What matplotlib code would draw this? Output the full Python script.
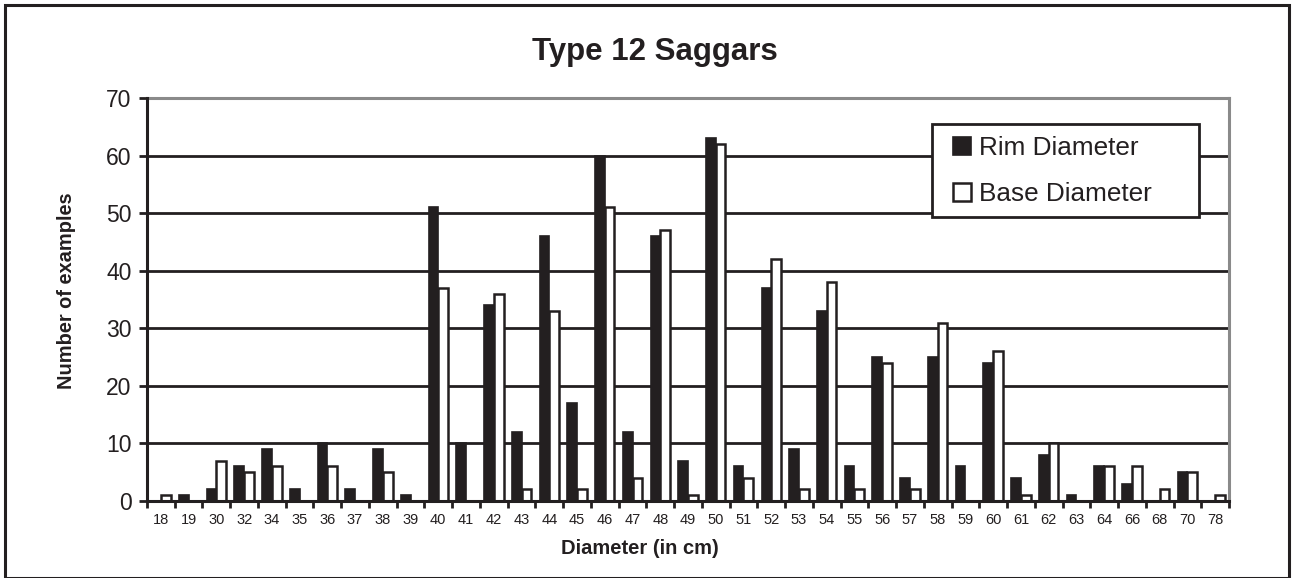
import matplotlib
matplotlib.use("Agg")
import matplotlib.pyplot as plt
import numpy as np
from matplotlib.patches import Rectangle

categories = ["18", "19", "30", "32", "34", "35", "36", "37", "38", "39", "40", "41", "42",
              "43", "44", "45", "46", "47", "48", "49", "50", "51", "52", "53", "54", "55",
              "56", "57", "58", "59", "60", "61", "62", "63", "64", "66", "68", "70", "78"]
rim_diameter = [0, 1, 2, 6, 9, 2, 10, 2, 9, 1, 51, 10, 34,
                12, 46, 17, 60, 12, 46, 7, 63, 6, 37, 9, 33, 6,
                25, 4, 25, 6, 24, 4, 8, 1, 6, 3, 0, 5, 0]
base_diameter = [1, 0, 7, 5, 6, 0, 6, 0, 5, 0, 37, 0, 36,
                 2, 33, 2, 51, 4, 47, 1, 62, 4, 42, 2, 38, 2,
                 24, 2, 31, 0, 26, 1, 10, 0, 6, 6, 2, 5, 1]
y_ticks = [0, 10, 20, 30, 40, 50, 60, 70]

plt.rcParams['font.family'] = ['Liberation Sans', 'DejaVu Sans']

W, H = 1296, 578
L, R, T, B = 147, 1229, 98, 501

fig = plt.figure(figsize=(W/100, H/100), dpi=100)
ax = fig.add_axes([L/W, 1 - B/H, (R - L)/W, (B - T)/H])

x = np.arange(len(categories))
w = 0.35
ax.bar(x - w/2, rim_diameter, width=w, color='#231f20', edgecolor='#231f20',
       linewidth=1.2, label='Rim Diameter', zorder=3)
ax.bar(x + w/2, base_diameter, width=w, color='white', edgecolor='#231f20',
       linewidth=1.8, label='Base Diameter', zorder=3)

ax.set_xlim(-0.5, len(categories) - 0.5)
ax.set_ylim(0, 70)
ax.set_yticks(y_ticks)
ax.set_yticklabels([str(t) for t in y_ticks], fontsize=16.5, color='#231f20')
ax.set_xticks(x)
ax.set_xticklabels(categories, fontsize=10.5, color='#231f20')
ax.set_xticks(np.arange(len(categories) + 1) - 0.5, minor=True)
ax.tick_params(axis='x', which='major', length=0, pad=9)
ax.tick_params(axis='x', which='minor', length=5, width=2, direction='out', color='#231f20')
ax.tick_params(axis='y', length=6, width=2, direction='out', color='#231f20', pad=5)

for t in y_ticks[1:-1]:
    ax.axhline(t, color='#231f20', linewidth=2, zorder=1)

for s in ['left', 'bottom']:
    ax.spines[s].set_color('#231f20')
    ax.spines[s].set_linewidth(2.2)
    ax.spines[s].set_zorder(4)
for s in ['top', 'right']:
    ax.spines[s].set_color('#8a8a8a')
    ax.spines[s].set_linewidth(2.2)

fig.text(640/W, 1 - 549/H, 'Diameter (in cm)', ha='center', va='center',
         fontsize=14.5, fontweight='bold', color='#231f20')
fig.text(67/W, 1 - 291/H, 'Number of examples', ha='center', va='center', rotation=90,
         fontsize=14.4, fontweight='bold', color='#231f20')

fig.text(655/W, 1 - 52/H, 'Type 12 Saggars', ha='center', va='center',
         fontsize=22.5, fontweight='bold', color='#231f20')

# legend frame (Excel style: extra room on the right)
ax.add_patch(Rectangle((932/W, 1 - 217/H), (1199 - 932)/W, (217 - 124)/H,
                       transform=fig.transFigure, facecolor='white',
                       edgecolor='#231f20', linewidth=2, zorder=5, clip_on=False))
leg = ax.legend(loc='upper left', bbox_to_anchor=(953/W, 1 - 136/H),
                bbox_transform=fig.transFigure,
                fontsize=18.8, frameon=False,
                handlelength=0.7, handleheight=0.7, handletextpad=0.28,
                borderpad=0, labelspacing=0.85, borderaxespad=0)
leg.set_zorder(6)
for t in leg.get_texts():
    t.set_color('#231f20')

fig.patches.append(Rectangle((5/W, 0), (1289 - 5)/W, (H - 11)/H + 0.01,
                             transform=fig.transFigure, fill=False,
                             edgecolor='#231f20', linewidth=2.2))

fig.savefig('out.png', dpi=100)
